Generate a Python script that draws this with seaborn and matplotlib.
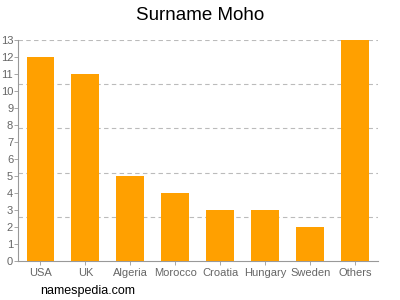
import matplotlib
matplotlib.use("Agg")
import matplotlib.pyplot as plt
import seaborn as sns
import numpy as np
import pandas as pd

countries = ["USA", "UK", "Algeria", "Morocco", "Croatia", "Hungary", "Sweden", "Others"]
counts = [12, 11, 5, 4, 3, 3, 2, 13]

sns.set_style("white")
plt.rcParams['font.family'] = ['Liberation Sans', 'DejaVu Sans']

fig = plt.figure(figsize=(4, 3), dpi=100)
ax = fig.add_axes([0.045, 0.13, 0.899, 0.737])

df = pd.DataFrame({"country": countries, "count": counts})
sns.barplot(data=df, x="country", y="count", color="#FFA000", saturation=1,
            width=0.62, linewidth=0, edgecolor="none", ax=ax, zorder=3)

ax.set_ylim(0, 13)
ax.set_xlim(-0.5, 7.5)
ax.set_yticks(range(0, 14))
for g in np.arange(1, 6) * 2.6:
    ax.axhline(g, color="#bbbbbb", linestyle=(0, (4, 3)), linewidth=0.8, zorder=1)
ax.set_xlabel("")
ax.set_ylabel("")
for s in ["top", "right"]:
    ax.spines[s].set_visible(False)
for s in ["left", "bottom"]:
    ax.spines[s].set_color("#999999")
    ax.spines[s].set_linewidth(0.8)
ax.tick_params(axis="y", labelsize=8, colors="#999999", labelcolor="#666666",
               length=3, width=0.6, pad=0.5, left=True)
ax.tick_params(axis="x", labelsize=8, colors="#999999", labelcolor="#666666",
               length=3, width=0.6, pad=2, bottom=True)

fig.text(0.5, 0.95, "Surname Moho", ha="center", va="center", fontsize=13.5, color="black")
fig.text(0.1, 0.03, "namespedia.com", ha="left", va="center", fontsize=9, color="black")

fig.savefig("out.png", dpi=100)
